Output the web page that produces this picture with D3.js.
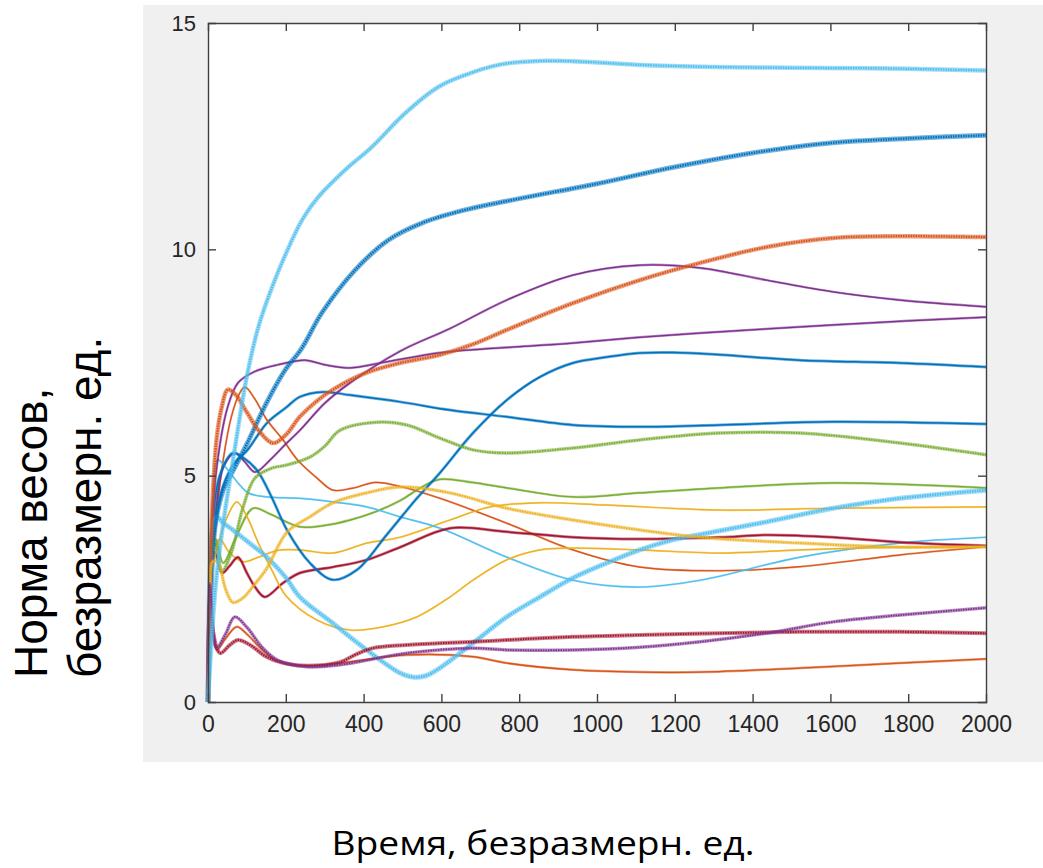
<!DOCTYPE html>
<html>
<head>
<meta charset="utf-8">
<script src="https://cdn.jsdelivr.net/npm/d3@7"></script>
<style>
body { margin: 0; background: #fff; }
svg { display: block; }
</style>
</head>
<body>
<svg width="1043" height="868"></svg>
<script>
var margin = {left: 208, right: 57, top: 23, bottom: 166};
var width = 1043, height = 868;

var xTicks = [0, 200, 400, 600, 800, 1000, 1200, 1400, 1600, 1800, 2000];
var yTicks = [0, 5, 10, 15];

// [time, norm]
var lbTop = [[0,0],[8,1.2],[20,2.6],[40,4.0],[60,5.1],[80,6.2],[100,7.2],[130,8.3],[165,9.17],[200,9.9],[242,10.65],[283,11.15],[352,11.75],[421,12.26],[506,13.0],[591,13.58],[661,13.85],[750,14.08],[850,14.16],[950,14.15],[1100,14.08],[1300,14.03],[1500,14.01],[1700,14.0],[1850,13.98],[2000,13.95]];
var blueThick = [[0,0],[8,2.5],[20,4.0],[40,4.7],[70,5.2],[100,5.7],[150,6.6],[198,7.33],[240,7.8],[293,8.6],[378,9.54],[463,10.2],[550,10.58],[661,10.87],[800,11.12],[1000,11.45],[1200,11.82],[1400,12.13],[1600,12.35],[1800,12.45],[2000,12.52]];
var orangeThick = [[0,0],[5,2.5],[12,4.5],[22,5.8],[35,6.5],[51,6.9],[70,6.8],[100,6.4],[130,6.0],[167,5.72],[200,5.9],[236,6.3],[280,6.65],[321,6.9],[400,7.25],[494,7.49],[596,7.67],[680,7.9],[768,8.22],[938,8.81],[1110,9.32],[1265,9.7],[1436,10.05],[1607,10.25],[1779,10.29],[2000,10.27]];
var orangeThin = [[0,0],[6,2.5],[20,4.0],[40,5.4],[60,6.3],[80,6.8],[95,6.96],[120,6.7],[150,6.25],[193,5.79],[230,5.35],[280,4.95],[321,4.68],[370,4.72],[430,4.85],[500,4.75],[596,4.5],[768,3.95],[938,3.36],[1110,2.98],[1316,2.9],[1522,2.99],[1779,3.25],[2000,3.43]];
var purplePeak = [[0,0],[6,2.5],[20,4.2],[40,5.2],[70,5.5],[95,5.3],[121,5.08],[160,5.35],[200,5.7],[236,6.0],[300,6.6],[365,7.05],[494,7.75],[622,8.25],[768,8.88],[938,9.43],[1110,9.65],[1265,9.59],[1436,9.32],[1607,9.06],[1779,8.88],[2000,8.73]];
var purpleFlat = [[0,0],[6,3.0],[20,5.0],[50,6.5],[77,7.05],[120,7.3],[180,7.45],[249,7.55],[300,7.45],[365,7.38],[450,7.5],[600,7.72],[800,7.85],[938,7.93],[1100,8.05],[1265,8.15],[1450,8.25],[1607,8.33],[1800,8.42],[2000,8.5]];
var blueDip = [[0,0],[6,2.8],[15,4.2],[30,5.0],[64,5.5],[90,5.4],[126,5.12],[165,4.5],[203,3.8],[262,3.07],[321,2.7],[383,2.92],[460,3.7],[537,4.5],[596,5.06],[681,5.94],[768,6.67],[853,7.18],[938,7.49],[1025,7.62],[1110,7.71],[1195,7.72],[1316,7.67],[1522,7.55],[1779,7.49],[2000,7.40]];
var bluePlateau = [[0,0],[6,2.5],[15,3.6],[40,4.8],[70,5.3],[100,5.55],[151,6.16],[200,6.5],[236,6.74],[296,6.85],[365,6.78],[494,6.63],[622,6.45],[768,6.3],[938,6.12],[1110,6.08],[1316,6.12],[1607,6.19],[2000,6.14]];
var greenThick = [[0,0],[5,2.5],[10,3.2],[20,3.5],[36,2.9],[60,3.3],[90,4.3],[121,4.95],[165,5.17],[200,5.23],[262,5.41],[300,5.65],[339,6.0],[434,6.18],[511,6.12],[596,5.83],[681,5.57],[768,5.5],[938,5.61],[1110,5.79],[1316,5.94],[1522,5.94],[1779,5.72],[2000,5.46]];
var greenThin = [[0,0],[5,2.6],[10,3.3],[20,3.6],[39,3.07],[70,3.6],[116,4.28],[160,4.15],[236,3.87],[300,3.9],[365,4.02],[430,4.2],[494,4.45],[550,4.75],[596,4.92],[680,4.85],[768,4.73],[938,4.53],[1110,4.62],[1316,4.73],[1607,4.84],[2000,4.73]];
var lbDip = [[0,0],[5,2.8],[12,3.8],[22,4.09],[40,3.95],[64,3.8],[108,3.5],[151,3.2],[200,2.75],[236,2.32],[321,1.74],[408,1.15],[494,0.64],[527,0.55],[560,0.58],[596,0.75],[681,1.3],[768,1.88],[853,2.32],[938,2.74],[1025,3.07],[1110,3.36],[1195,3.58],[1265,3.7],[1436,3.98],[1607,4.28],[1779,4.5],[2000,4.68]];
var lbThin = [[0,0],[5,3.0],[12,4.5],[25,5.35],[44,5.2],[77,4.84],[103,4.62],[151,4.53],[236,4.5],[321,4.42],[408,4.31],[494,4.09],[596,3.84],[768,3.2],[938,2.69],[1110,2.54],[1265,2.69],[1522,3.2],[1779,3.51],[2000,3.64]];
var yellowThick = [[0,0],[5,2.4],[12,3.1],[25,3.1],[45,2.5],[64,2.2],[90,2.3],[120,2.6],[151,2.95],[203,3.75],[262,4.09],[321,4.4],[408,4.62],[494,4.75],[622,4.62],[768,4.28],[938,4.02],[1110,3.8],[1265,3.64],[1522,3.51],[1779,3.42],[2000,3.43]];
var yellowMid = [[0,0],[5,2.4],[12,3.3],[30,3.6],[55,3.3],[90,3.1],[130,3.2],[180,3.35],[236,3.36],[321,3.29],[408,3.51],[494,3.64],[622,4.02],[725,4.31],[853,4.4],[1025,4.35],[1316,4.24],[1607,4.28],[2000,4.31]];
var yellowLow = [[0,0],[5,2.2],[12,3.0],[30,3.6],[50,4.1],[74,4.42],[100,4.1],[130,3.5],[165,2.9],[200,2.35],[280,1.81],[365,1.59],[450,1.66],[537,1.88],[622,2.32],[681,2.69],[768,3.14],[853,3.36],[938,3.4],[1110,3.36],[1316,3.29],[1522,3.36],[1779,3.42],[2000,3.43]];
var redMid = [[0,0],[4,2.2],[8,3.0],[18,3.3],[36,2.85],[55,3.0],[77,3.2],[100,2.85],[121,2.54],[146,2.32],[193,2.63],[236,2.85],[321,2.98],[408,3.14],[494,3.42],[622,3.84],[768,3.76],[938,3.64],[1110,3.6],[1316,3.64],[1436,3.69],[1607,3.64],[1779,3.53],[2000,3.45]];
var purpleLow = [[0,0],[4,2.6],[10,2.0],[22,1.2],[45,1.5],[69,1.88],[100,1.65],[140,1.2],[180,0.92],[254,0.78],[339,0.82],[511,1.08],[681,1.19],[768,1.15],[938,1.15],[1110,1.21],[1265,1.33],[1436,1.52],[1607,1.77],[1779,1.92],[2000,2.08]];
var orangeLow = [[0,0],[4,2.5],[10,1.9],[23,1.15],[45,1.4],[74,1.66],[100,1.5],[140,1.15],[180,0.9],[254,0.8],[339,0.86],[511,1.04],[681,1.0],[768,0.86],[938,0.71],[1110,0.66],[1265,0.66],[1522,0.75],[1779,0.86],[2000,0.95]];
var redLow = [[0,0],[4,2.4],[10,1.7],[31,1.08],[55,1.25],[77,1.37],[110,1.25],[150,1.0],[200,0.85],[254,0.8],[339,0.88],[380,1.05],[424,1.19],[511,1.26],[681,1.33],[768,1.37],[938,1.44],[1110,1.48],[1316,1.52],[1522,1.55],[1779,1.55],[2000,1.52]];

var series = [
  {data: bluePlateau, color: "#0072BD", w: 3},
  {data: orangeThin,  color: "#D95319", w: 2},
  {data: yellowMid,   color: "#EDB120", w: 2},
  {data: purplePeak,  color: "#7E2F8E", w: 2.5},
  {data: greenThin,   color: "#77AC30", w: 2.5},
  {data: lbThin,      color: "#4DBEEE", w: 2},
  {data: redMid,      color: "#A2142F", w: 3},
  {data: blueDip,     color: "#0072BD", w: 3},
  {data: orangeLow,   color: "#D95319", w: 2.5},
  {data: yellowLow,   color: "#EDB120", w: 2},
  {data: purpleFlat,  color: "#7E2F8E", w: 2.5},
  {data: greenThick,  color: "#77AC30", w: 3.5},
  {data: lbDip,       color: "#4DBEEE", w: 5},
  {data: redLow,      color: "#A2142F", w: 4},
  {data: blueThick,   color: "#0072BD", w: 5},
  {data: orangeThick, color: "#D95319", w: 4.5},
  {data: yellowThick, color: "#EDB120", w: 3.5},
  {data: purpleLow,   color: "#7E2F8E", w: 3.5},
  {data: lbTop,       color: "#4DBEEE", w: 4.5}
];

var svg = d3.select("svg");

// grey figure background
svg.append("rect").attr("x", 143).attr("y", 5).attr("width", 900).attr("height", 757).attr("fill", "#f0f0f0");

var x = d3.scaleLinear().domain([0, 2000]).range([margin.left, width - margin.right]);
var y = d3.scaleLinear().domain([0, 15]).range([height - margin.bottom, margin.top]);

svg.append("rect")
  .attr("x", x(0)).attr("y", y(15))
  .attr("width", x(2000) - x(0)).attr("height", y(0) - y(15))
  .attr("fill", "#fff");

var line = d3.line()
  .x(function(d) { return x(d[0]); })
  .y(function(d) { return y(d[1]); })
  .curve(d3.curveCatmullRom.alpha(0.5));

var lines = svg.append("g").attr("class", "lines");
series.forEach(function(s) {
  lines.append("path")
    .attr("d", line(s.data))
    .attr("fill", "none")
    .attr("stroke", s.color)
    .attr("stroke-opacity", 0.55)
    .attr("stroke-width", s.w)
    .attr("stroke-linejoin", "round");
  lines.append("path")
    .attr("d", line(s.data))
    .attr("fill", "none")
    .attr("stroke", s.color)
    .attr("stroke-width", Math.max(1.2, s.w * 0.5))
    .attr("stroke-dasharray", s.w > 3 ? "1.5,1" : null)
    .attr("stroke-linejoin", "round");
});

// axes, ticks pointing inward like MATLAB
var axisColor = "#404040";
var fmt = d3.format("d");
var xAxis = svg.append("g")
  .attr("transform", "translate(0," + y(0) + ")")
  .call(d3.axisBottom(x).tickValues(xTicks).tickFormat(fmt).tickSize(-8).tickPadding(14));
var xTop = svg.append("g")
  .attr("transform", "translate(0," + y(15) + ")")
  .call(d3.axisTop(x).tickValues(xTicks).tickSize(-8).tickFormat(""));
var yAxis = svg.append("g")
  .attr("transform", "translate(" + x(0) + ",0)")
  .call(d3.axisLeft(y).tickValues(yTicks).tickFormat(fmt).tickSize(-8).tickPadding(12));
var yRight = svg.append("g")
  .attr("transform", "translate(" + x(2000) + ",0)")
  .call(d3.axisRight(y).tickValues(yTicks).tickSize(-8).tickFormat(""));

[xAxis, xTop, yAxis, yRight].forEach(function(g) {
  g.select(".domain").attr("stroke", axisColor).attr("stroke-width", 1.4);
  g.selectAll(".tick line").attr("stroke", axisColor).attr("stroke-width", 1.4);
  g.selectAll(".tick text").attr("fill", "#262626")
    .style("font-family", "'Liberation Sans', Arial, sans-serif");
});
xAxis.selectAll(".tick text").style("font-size", "23px");
yAxis.selectAll(".tick text").style("font-size", "22px");
[xAxis, xTop].forEach(function(g) {
  g.selectAll(".tick line").filter(function(d) { return d === 0 || d === 2000; }).remove();
});
[yAxis, yRight].forEach(function(g) {
  g.selectAll(".tick line").filter(function(d) { return d === 0 || d === 15; }).remove();
});

// axis titles
var yTitle = svg.append("g")
  .attr("transform", "translate(0,678) rotate(-90)")
  .style("font-family", "'Liberation Sans', Arial, sans-serif")
  .style("font-size", "46px")
  .attr("fill", "#000");
yTitle.append("text").attr("x", 0).attr("y", 47).text("Норма весов,");
yTitle.append("text").attr("x", 0).attr("y", 101).text("безразмерн. ед.");

svg.append("text")
  .attr("x", 543).attr("y", 855)
  .attr("text-anchor", "middle")
  .attr("textLength", 423)
  .attr("lengthAdjust", "spacingAndGlyphs")
  .style("font-family", "'Open Sans', 'Noto Sans', sans-serif")
  .style("font-size", "32px")
  .attr("fill", "#000")
  .text("Время, безразмерн. ед.");
</script>
</body>
</html>
